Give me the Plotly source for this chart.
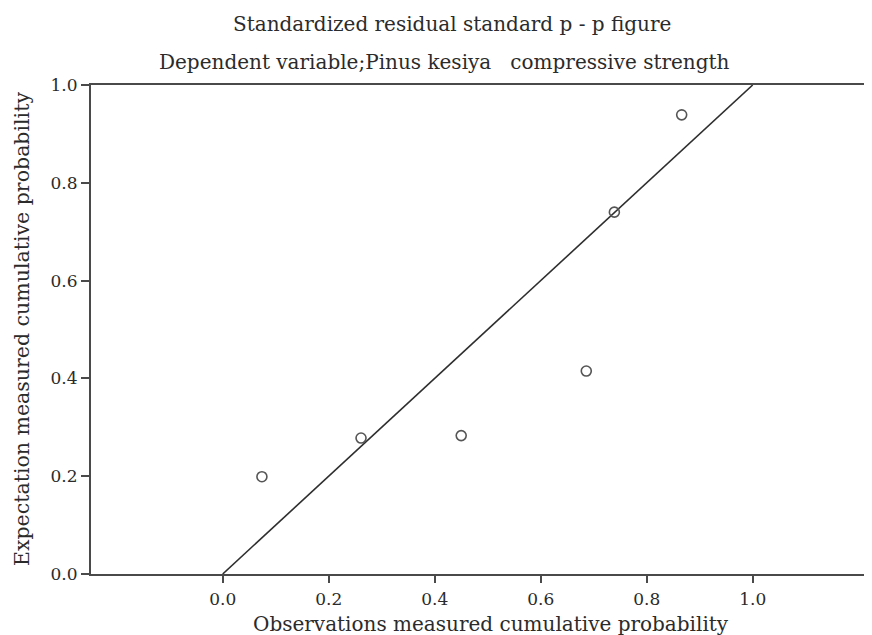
import plotly.graph_objects as go

obs_prob = [0.074, 0.261, 0.450, 0.686, 0.739, 0.866]
exp_prob = [0.199, 0.278, 0.283, 0.415, 0.740, 0.939]
ref_line = [0.0, 1.0]
tick_vals = [0.0, 0.2, 0.4, 0.6, 0.8, 1.0]
tick_text = ["0.0", "0.2", "0.4", "0.6", "0.8", "1.0"]

title1 = "Standardized residual standard p - p figure"
title2 = "Dependent variable;Pinus kesiya   compressive strength"
x_title = "Observations measured cumulative probability"
y_title = "Expectation measured cumulative probability"

FONT = "DejaVu Serif"
TXT = "#2b2b2b"
LINE = "#4a4a4a"
fig = go.Figure()
fig.add_trace(go.Scatter(x=ref_line, y=ref_line, mode="lines",
                         line=dict(color="#2e2e2e", width=1.6), showlegend=False, hoverinfo="skip"))
fig.add_trace(go.Scatter(x=obs_prob, y=exp_prob, mode="markers",
                         marker=dict(symbol="circle-open", size=10, color="#555555", line=dict(width=1.6)),
                         showlegend=False))

# page body has an 8px default margin, so the figure is sized/positioned to compensate
fig.update_layout(
    width=864, height=627,
    margin=dict(l=83, r=0, t=77, b=61),
    paper_bgcolor="white", plot_bgcolor="white",
    font=dict(family=FONT, color=TXT),
    xaxis=dict(range=[-0.2485, 1.2251], tickvals=tick_vals, ticktext=tick_text,
               showgrid=False, zeroline=False, showline=True, linecolor=LINE, linewidth=2,
               mirror=True, ticks="outside", ticklen=7, tickcolor=LINE, tickwidth=1.5,
               tickfont=dict(size=17, family=FONT, color=TXT), ticklabelstandoff=2),
    yaxis=dict(range=[0, 1], tickvals=tick_vals, ticktext=tick_text,
               showgrid=False, zeroline=False, showline=True, linecolor=LINE, linewidth=2,
               ticks="outside", ticklen=8, tickcolor=LINE, tickwidth=1.5,
               tickfont=dict(size=17, family=FONT, color=TXT)),
    annotations=[
        dict(text=title1, xref="paper", yref="paper", x=0.462, y=1.1247, showarrow=False,
             xanchor="center", yanchor="middle", font=dict(size=20, family=FONT, color=TXT)),
        dict(text=title2, xref="paper", yref="paper", x=0.453, y=1.047, showarrow=False,
             xanchor="center", yanchor="middle", font=dict(size=20, family=FONT, color=TXT)),
        dict(text=x_title, xref="paper", yref="paper", x=0.512, y=-0.1023, showarrow=False,
             xanchor="center", yanchor="middle", font=dict(size=20, family=FONT, color=TXT)),
        dict(text=y_title, xref="paper", yref="paper", x=-0.0883, y=0.501, showarrow=False, textangle=-90,
             xanchor="center", yanchor="middle", font=dict(size=20.5, family=FONT, color=TXT)),
    ],
)
fig.write_html("out.html")
